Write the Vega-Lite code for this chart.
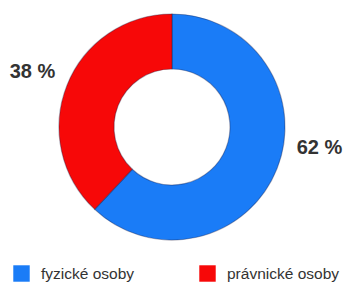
{
  "$schema": "https://vega.github.io/schema/vega-lite/v6.json",
  "width": 344,
  "height": 254,
  "autosize": {"type": "none"},
  "padding": {"top": 0, "left": 0, "right": 0, "bottom": 28},
  "background": "white",
  "config": {"view": {"stroke": null}, "font": "Liberation Sans"},
  "data": {"values": [
    {"kategorie": "fyzické osoby", "podil": 62, "o": 1, "label": "62 %"},
    {"kategorie": "právnické osoby", "podil": 38, "o": 2, "label": "38 %"}
  ]},
  "encoding": {
    "theta": {"field": "podil", "type": "quantitative", "stack": true},
    "order": {"field": "o", "type": "quantitative"}
  },
  "layer": [
    {
      "mark": {"type": "arc", "outerRadius": 113, "innerRadius": 58, "stroke": "#1a1a40", "strokeOpacity": 0.35, "strokeWidth": 1.2},
      "encoding": {
        "color": {
          "field": "kategorie", "type": "nominal",
          "scale": {"domain": ["fyzické osoby", "právnické osoby"], "range": ["#1a7cf7", "#f70808"]},
          "legend": {
            "title": null, "orient": "none", "direction": "horizontal",
            "legendX": 13, "legendY": 265,
            "symbolType": "square", "symbolSize": 270, "symbolStrokeWidth": 0,
            "labelFontSize": 15.5, "labelColor": "#333333", "labelOffset": 11,
            "columnPadding": 64, "labelLimit": 200
          }
        }
      }
    },
    {
      "mark": {"type": "text", "radius": 150, "fontSize": 20, "fontWeight": "bold", "fill": "#333333"},
      "encoding": {
        "text": {"condition": {"test": "datum.o == 2", "field": "label"}, "value": ""}
      }
    },
    {
      "mark": {"type": "text", "radius": 150, "fontSize": 20, "fontWeight": "bold", "fill": "#333333", "dx": 8, "dy": -34},
      "encoding": {
        "text": {"condition": {"test": "datum.o == 1", "field": "label"}, "value": ""}
      }
    }
  ]
}
